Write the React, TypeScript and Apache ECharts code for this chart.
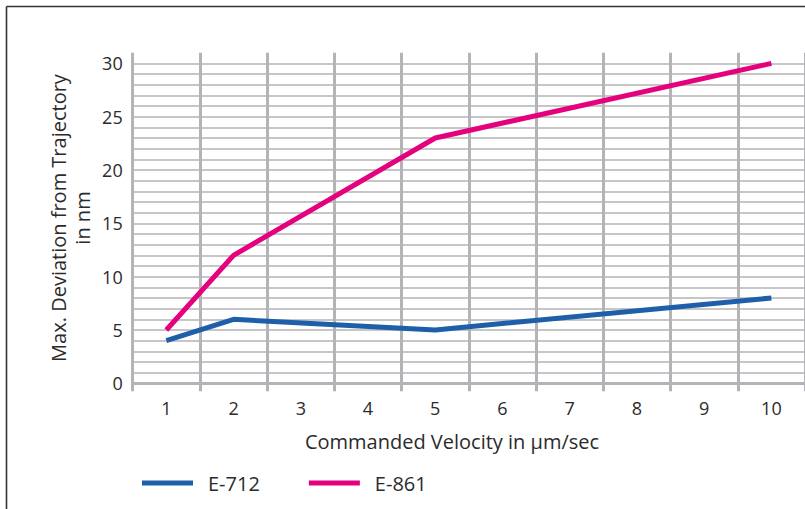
import React, { useEffect, useRef } from "react";
import * as echarts from "echarts";

const categories = ["1", "2", "3", "4", "5", "6", "7", "8", "9", "10"];
const e712 = [4, 6, null, null, 5, null, null, null, null, 8];
const e861 = [5, 12, null, null, 23, null, null, null, null, 30];
const yTickLabels = [0, 5, 10, 15, 20, 25, 30];

const FONT = "'Open Sans', 'Liberation Sans', sans-serif";
const TEXT = "#2b2b2b";

export default function App() {
  const ref = useRef<HTMLDivElement>(null);
  useEffect(() => {
    if (!ref.current) return;
    const chart = echarts.init(ref.current, undefined, { renderer: "svg" });
    chart.setOption({
      animation: false,
      backgroundColor: "#ffffff",
      textStyle: { fontFamily: FONT },
      grid: { left: 132.7, top: 52.7, width: 675, height: 330.6, containLabel: false },
      xAxis: {
        type: "category",
        data: categories,
        boundaryGap: true,
        z: 1,
        axisLine: { show: true, lineStyle: { color: "#b4b4b8", width: 3 } },
        axisTick: { show: true, length: 8, interval: 0, lineStyle: { color: "#b4b4b8", width: 3 } },
        axisLabel: { interval: 0, fontSize: 18, color: TEXT, fontFamily: FONT, margin: 16 },
        splitLine: { show: true, interval: 0, lineStyle: { color: "#b4b4b8", width: 3 } },
      },
      yAxis: {
        type: "value",
        min: 0,
        max: 31,
        interval: 1,
        z: 0,
        axisLine: { show: false },
        axisTick: { show: false },
        axisLabel: {
          fontSize: 18,
          color: TEXT,
          fontFamily: FONT,
          margin: 10,
          formatter: (v: number) => (yTickLabels.indexOf(v) >= 0 ? String(v) : ""),
        },
        splitLine: { show: true, showMaxLine: false, lineStyle: { color: "#c6c6c8", width: 2 } },
      },
      legend: {
        left: 137,
        top: 468,
        icon: "rect",
        itemWidth: 51,
        itemHeight: 5,
        itemGap: 49,
        textStyle: { fontSize: 20, color: TEXT, fontFamily: FONT, padding: [0, 0, 0, 10] },
        data: ["E-712", "E-861"],
      },
      graphic: [
        {
          type: "line",
          shape: { x1: 6.5, y1: 6.5, x2: 805, y2: 6.5 },
          style: { stroke: "#333", lineWidth: 1.6 },
        },
        {
          type: "line",
          shape: { x1: 6.5, y1: 6.5, x2: 6.5, y2: 509 },
          style: { stroke: "#333", lineWidth: 1.6 },
        },
        {
          type: "text",
          x: 452,
          y: 441,
          style: {
            text: "Commanded Velocity in µm/sec",
            fontSize: 20,
            fill: TEXT,
            fontFamily: FONT,
            textAlign: "center",
            textVerticalAlign: "middle",
          },
        },
        {
          type: "text",
          x: 58,
          y: 218,
          rotation: Math.PI / 2,
          style: {
            text: "Max. Deviation from Trajectory",
            fontSize: 20,
            fill: TEXT,
            fontFamily: FONT,
            textAlign: "center",
            textVerticalAlign: "middle",
          },
        },
        {
          type: "text",
          x: 82,
          y: 218,
          rotation: Math.PI / 2,
          style: {
            text: "in nm",
            fontSize: 20,
            fill: TEXT,
            fontFamily: FONT,
            textAlign: "center",
            textVerticalAlign: "middle",
          },
        },
      ],
      series: [
        {
          name: "E-712",
          type: "line",
          data: e712,
          connectNulls: true,
          showSymbol: false,
          symbol: "none",
          color: "#1f5fa9",
          lineStyle: { width: 5, color: "#1f5fa9" },
          z: 3,
        },
        {
          name: "E-861",
          type: "line",
          data: e861,
          connectNulls: true,
          showSymbol: false,
          symbol: "none",
          color: "#e5007d",
          lineStyle: { width: 5, color: "#e5007d" },
          z: 3,
        },
      ],
    });
    return () => chart.dispose();
  }, []);
  return (
    <div
      ref={ref}
      style={{ position: "absolute", left: 0, top: 0, width: 805, height: 509 }}
    />
  );
}
